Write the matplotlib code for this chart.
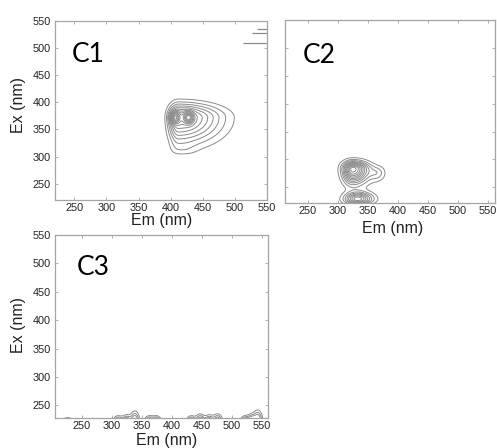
import numpy as np
import matplotlib
matplotlib.use('Agg')
import matplotlib.pyplot as plt

# Диапазоны осей по каждой панели (Em, Ex)
C1_XLIM, C1_YLIM = (220, 550), (220, 550)
C2_XLIM, C2_YLIM = (212, 562), (222, 550)
C3_XLIM, C3_YLIM = (205, 560), (228, 550)

EM_TICKS = [250, 300, 350, 400, 450, 500, 550]
EX_TICKS = [250, 300, 350, 400, 450, 500, 550]

# Компонент C1: пики (em, ex, ширины em влево/вправо, ex вниз/вверх, амплитуда)
c1_em = [412, 406, 428, 420]
c1_ex = [372, 372, 372, 312]
c1_wl = [11, 5, 5, 18]
c1_wr = [46, 5, 5, 14]
c1_wd = [33, 7, 7, 6]
c1_wu = [18, 7, 7, 10]
c1_amp = [0.6, 0.4, 0.4, 0.05]

# фрагменты линий в правом верхнем углу C1
c1_line_ex = [510, 527, 536]
c1_line_em0 = [513, 526, 534]

# Компонент C2
c2_em = [325, 366, 333]
c2_ex = [283, 276, 229]
c2_wl = [11, 10, 14]
c2_wr = [17, 9, 16]
c2_wd = [17, 10, 6]
c2_wu = [9, 8, 8]
c2_amp = [1.0, 0.2, 0.75]

# Компонент C3: шум у нижнего края
c3_em = [226, 242, 258, 310, 324, 338, 362, 374, 432, 447, 462, 476, 522, 533, 543]
c3_reach = [4, 3, 3, 6, 7, 11, 6, 6, 6, 8, 7, 8, 6, 8, 12]

LINE_COLOR = '#8a8a8a'
SPINE_COLOR = '#a5a5a5'
TEXT_COLOR = '#222222'


def asym(d, wneg, wpos):
    w = np.where(d < 0, wneg, wpos)
    return np.exp(-0.5 * (d / w) ** 2)


def surface(em, ex, cem, cex, wl, wr, wd, wu, amp):
    z = np.zeros_like(em)
    for i in range(len(cem)):
        z += amp[i] * asym(em - cem[i], wl[i], wr[i]) * asym(ex - cex[i], wd[i], wu[i])
    return z


def style_axes(ax, xlim, ylim, show_y=True):
    ax.set_xlim(*xlim)
    ax.set_ylim(*ylim)
    ax.set_xticks(EM_TICKS)
    ax.set_yticks(EX_TICKS)
    ax.tick_params(direction='in', length=2, width=0.6, color=SPINE_COLOR,
                   top=True, right=True, labelsize=7.8, labelcolor=TEXT_COLOR,
                   pad=2)
    ax.tick_params(axis='y', pad=3)
    if not show_y:
        ax.set_yticklabels([])
    for sp in ax.spines.values():
        sp.set_color(SPINE_COLOR)
        sp.set_linewidth(0.9)


plt.rcParams['font.family'] = ['Liberation Sans', 'DejaVu Sans']

fig = plt.figure(figsize=(4.97, 4.48), dpi=100)
fig.patch.set_facecolor('white')

ax1 = fig.add_axes([0.1107, 0.5536, 0.4266, 0.3996])
ax2 = fig.add_axes([0.5734, 0.5469, 0.4225, 0.4085])
ax3 = fig.add_axes([0.1107, 0.0670, 0.4286, 0.4085])

em = np.linspace(200, 570, 400)
ex = np.linspace(215, 555, 400)
EM, EX = np.meshgrid(em, ex)

# C1
z1 = surface(EM, EX, c1_em, c1_ex, c1_wl, c1_wr, c1_wd, c1_wu, c1_amp)
ax1.contour(EM, EX, z1, levels=np.linspace(0.1, 0.9, 13),
            colors=LINE_COLOR, linewidths=0.7)
ax1.hlines(c1_line_ex, c1_line_em0, 550, colors=LINE_COLOR, linewidth=0.9)
style_axes(ax1, C1_XLIM, C1_YLIM)

# C2
z2 = surface(EM, EX, c2_em, c2_ex, c2_wl, c2_wr, c2_wd, c2_wu, c2_amp)
ax2.contour(EM, EX, z2, levels=np.linspace(0.08, 0.95, 11),
            colors=LINE_COLOR, linewidths=0.7)
style_axes(ax2, C2_XLIM, C2_YLIM, show_y=False)

# C3
n = len(c3_em)
z3 = surface(EM, EX, c3_em, [222] * n, [5] * n, [5] * n, [3] * n,
             c3_reach, [1.0] * n)
ax3.contour(EM, EX, z3, levels=[0.25, 0.45, 0.65],
            colors=LINE_COLOR, linewidths=0.7)
style_axes(ax3, C3_XLIM, C3_YLIM)

# Подписи компонентов
for ax, name, x, y in [(ax1, 'C1', 0.08, 0.77), (ax2, 'C2', 0.086, 0.765),
                       (ax3, 'C3', 0.103, 0.78)]:
    ax.text(x, y, name, transform=ax.transAxes, fontsize=19,
            family='Lato', color='black', ha='left', va='baseline')

# Подписи осей
label_kw = dict(fontsize=11.5, color=TEXT_COLOR, ha='center', va='center')
fig.text(162 / 497, 1 - 221 / 448, 'Em (nm)', **label_kw)
fig.text(393 / 497, 1 - 228 / 448, 'Em (nm)', **label_kw)
fig.text(167 / 497, 1 - 440 / 448, 'Em (nm)', **label_kw)
fig.text(18 / 497, 1 - 105 / 448, 'Ex (nm)', rotation=90, **label_kw)
fig.text(18 / 497, 1 - 325 / 448, 'Ex (nm)', rotation=90, **label_kw)

fig.savefig('out.png', dpi=100, facecolor='white')
plt.close(fig)
